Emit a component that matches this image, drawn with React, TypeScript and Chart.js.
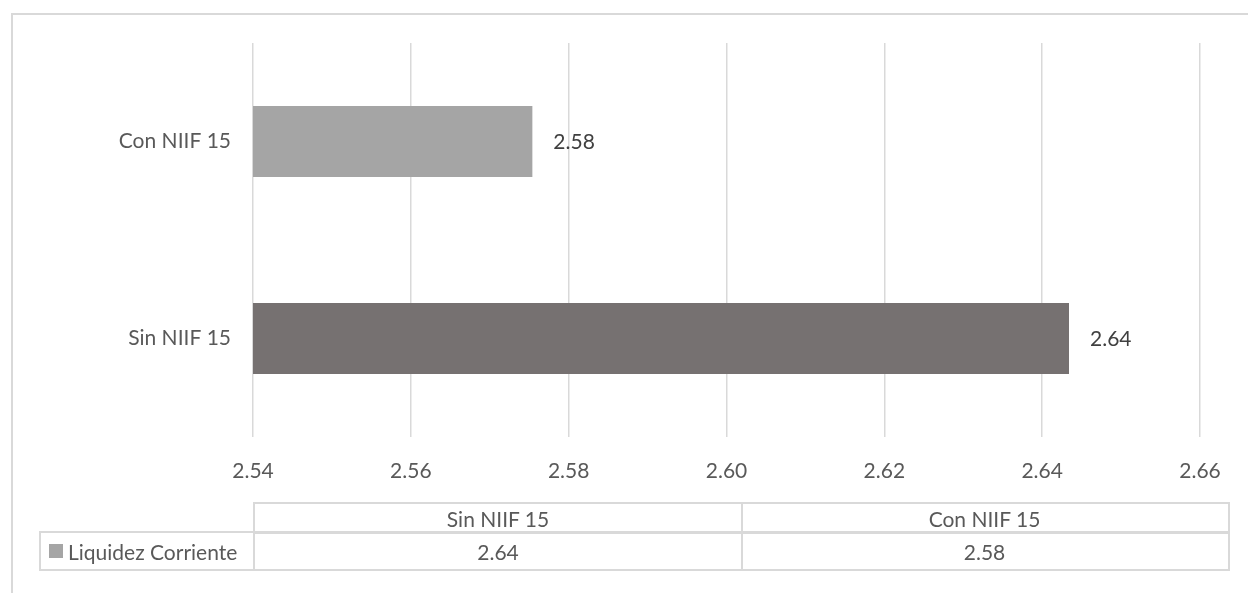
import React, { useEffect, useRef } from "react";
import { Chart, registerables } from "chart.js";

Chart.register(...registerables);

// Current liquidity ratio, with and without IFRS 15
const categories = ["Sin NIIF 15", "Con NIIF 15"];
const liquidez = [2.6434, 2.5754];
const barColors = ["#767171", "#A5A5A5"];
const seriesName = "Liquidez Corriente";
const legendColor = "#A5A5A5";
const xMin = 2.54;
const xMax = 2.66;
const xStep = 0.02;

const FONT = "Lato, 'Noto Sans', sans-serif";
const FONT_SIZE = 21;
const TEXT = "#595959";
const LINE = "#D9D9D9";

const fmt = (v: number) => v.toFixed(2);

const valueLabels = {
  id: "valueLabels",
  afterDatasetsDraw(chart: any) {
    const ctx = chart.ctx;
    const meta = chart.getDatasetMeta(0);
    ctx.save();
    ctx.font = `${FONT_SIZE}px ${FONT}`;
    ctx.fillStyle = "#404040";
    ctx.textAlign = "left";
    ctx.textBaseline = "middle";
    meta.data.forEach((bar: any, i: number) => {
      ctx.fillText(fmt(liquidez[i]), bar.x + 21, bar.y + 1);
    });
    ctx.restore();
  },
};

export default function App() {
  const canvasRef = useRef<HTMLCanvasElement | null>(null);

  useEffect(() => {
    if (!canvasRef.current) return;
    const chart = new Chart(canvasRef.current, {
      type: "bar",
      data: {
        labels: categories,
        datasets: [
          {
            label: seriesName,
            data: liquidez,
            backgroundColor: barColors,
            borderWidth: 0,
            barPercentage: 0.36,
            categoryPercentage: 1,
          },
        ],
      },
      options: {
        indexAxis: "y",
        animation: false,
        responsive: false,
        maintainAspectRatio: false,
        layout: { padding: { top: 43, right: 48, bottom: 0, left: 0 } },
        plugins: {
          legend: { display: false },
          tooltip: { enabled: false },
        },
        scales: {
          x: {
            min: xMin,
            max: xMax,
            ticks: {
              stepSize: xStep,
              callback: (v: any) => fmt(Number(v)),
              color: TEXT,
              font: { family: FONT, size: FONT_SIZE },
              padding: 22,
            },
            grid: { color: LINE, lineWidth: 1.5, drawTicks: false },
            border: { display: false },
            afterFit: (scale: any) => {
              scale.height = 156;
            },
          },
          y: {
            reverse: true,
            ticks: {
              color: TEXT,
              font: { family: FONT, size: FONT_SIZE },
              padding: 14,
            },
            grid: { display: false },
            border: { display: false },
            afterFit: (scale: any) => {
              scale.width = 253;
            },
          },
        },
      },
      plugins: [valueLabels],
    });
    return () => chart.destroy();
  }, []);

  const cellBase: React.CSSProperties = {
    position: "absolute",
    boxSizing: "border-box",
    display: "flex",
    alignItems: "center",
    justifyContent: "center",
    fontFamily: FONT,
    fontSize: FONT_SIZE,
    color: TEXT,
    whiteSpace: "nowrap",
  };
  const b = `2px solid ${LINE}`;

  return (
    <div
      style={{
        position: "fixed",
        left: 0,
        top: 0,
        width: 1248,
        height: 593,
        background: "#fff",
        overflow: "hidden",
      }}
    >
      <div
        style={{
          position: "absolute",
          left: 11,
          top: 13,
          width: 1300,
          height: 700,
          borderLeft: b,
          borderTop: b,
        }}
      />
      <canvas
        ref={canvasRef}
        width={1248}
        height={593}
        style={{ position: "absolute", left: 0, top: 0, width: 1248, height: 593 }}
      />
      {/* data table: header row */}
      {categories.map((c, i) => (
        <div
          key={"h" + c}
          style={{
            ...cellBase,
            left: 253 + i * 488,
            top: 502,
            width: i === 0 ? 490 : 489,
            height: 32,
            border: b,
            borderLeft: i === 0 ? b : "none",
          }}
        >
          {c}
        </div>
      ))}
      {/* data table: legend cell */}
      <div
        style={{
          ...cellBase,
          left: 39,
          top: 531,
          width: 216,
          height: 40,
          border: b,
          justifyContent: "flex-start",
          paddingLeft: 8,
        }}
      >
        <span
          style={{
            display: "inline-block",
            width: 14,
            height: 14,
            background: legendColor,
            marginRight: 5,
            flexShrink: 0,
          }}
        />
        {seriesName}
      </div>
      {/* data table: values row */}
      {liquidez.map((v, i) => (
        <div
          key={"v" + i}
          style={{
            ...cellBase,
            left: 253 + i * 488,
            top: 531,
            width: i === 0 ? 490 : 489,
            height: 40,
            border: b,
            borderLeft: i === 0 ? b : "none",
          }}
        >
          {fmt(v)}
        </div>
      ))}
    </div>
  );
}
